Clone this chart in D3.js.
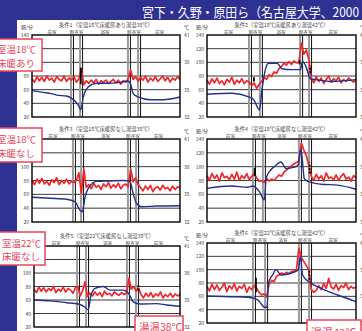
<!DOCTYPE html>
<html>
<head>
<meta charset="utf-8">
<script src="https://cdn.jsdelivr.net/npm/d3@7"></script>
<style>
  html, body { margin: 0; padding: 0; background: #2e3192; }
  svg { display: block; }
</style>
</head>
<body>
<svg id="chart" width="362" height="331"></svg>
<script>
const mainTitle = "宮下・久野・原田ら（名古屋大学、2000"
const panelTitles = [
  "条件1（室温18℃床暖房あり湯温38℃）",
  "条件2（室温18℃床暖房あり湯温42℃）",
  "条件3（室温18℃床暖房なし湯温38℃）",
  "条件4（室温18℃床暖房なし湯温42℃）",
  "条件5（室温22℃床暖房なし湯温38℃）",
  "条件6（室温22℃床暖房なし湯温42℃）"
]
const segNames = ["前室", "脱衣室", "浴室", "脱衣室", "前室"]
const pulseTicks = [20, 40, 60, 80, 100, 120, 140]
const tempTicks = [32, 35, 38, 41]
const condLabels = [["室温18℃", "床暖あり"], ["室温18℃", "床暖なし"], ["室温22℃", "床暖なし"]]
const bathLabels = ["湯温38℃", "湯温42℃"]

// room change times (minutes, 0-60)
const bounds = [
  [16.2, 19.9, 39.3, 43.4],
  [17.3, 21.7, 37.9, 41.5],
  [17.0, 20.3, 39.3, 42.6],
  [18.9, 22.9, 37.4, 41.5],
  [18.1, 21.8, 38.6, 42.3],
  [18.9, 23.8, 37.4, 41.5]
]

// pulse (beats/min), one value per minute 0..60
const pulse1 = [76,71,79,73,78,72,80,74,77,71,79,75,73,80,72,77, 74,79,71,76, 91,67,
  73,69,74,70,75,68,73,71,74,69,72,75,70,74,68,73,71,76,
  89,75,79,72,78,74,80,71,77,73,79,72,76,80,73,78,71,77,74,79,75]
const pulse2 = [74,68,76,70,77,69,73,67,75,71,78,68,74,70,76,69,73, 71,66,70,62,68,
  72,78,75,82,79,86,84,91, 94,99,96,101,97,102,99, 100, 128,112,118,104,
  76,70,79,72,77,69,75,80,71,76,73,78,70,75,72,77,74,71,76]
const pulse3 = [80,74,82,76,83,75,79,73,81,77,84,74,80,76,82,75,79, 77,80,91,61,97,70,
  74,68,76,70,73,67,75,71,77,69,74,70,76,68,73,75,71, 97, 78,84,74,
  70,65,72,67,73,64,69,71,66,73,68,70,65,72,67,71,69]
const pulse4 = [87,80,90,83,88,79,91,84,86,81,89,82,92,80,87,83,90,81,86, 90,84,79,
  80,77,83,79,82,80, 84,88,86,92,95,98,101,104,106, 108, 134, 124,116,102,
  86,80,89,82,87,79,91,83,85,81,88,80,86,90,82,85,79,87,84]
const pulse5 = [76,71,79,73,78,72,77,74,80,71,76,73,79,72,77,75,70,78, 80,66,74,87,65,
  70,66,72,67,71,65,73,68,70,66,72,69,67,71,68,70, 92, 76,80,73,78,
  68,63,70,65,71,64,69,66,72,63,68,65,70,64,69,66,68]
const pulse6 = [75,68,78,70,77,69,74,80,67,76,71,79,68,75,72,78,66,74,70,76, 72,66,62,64,59,
  78,84,82,90, 92,95,93,96,94,97,98,100, 132, 118,112,106,100, 70,66,69,
  76,70,79,72,87,74,71,78,69,76,73,80,70,75,72,74]

// skin temperature (℃), [minute, value]
const temp1 = [[0,34.9],[4.6,34.7],[7.3,34.6],[10,34.4],[14,34.3],[16,34.05],[18.8,33.3],[19.8,32.8],
  [20.8,34.2],[22.8,35.3],[26.2,35.7],[30.2,35.7],[35.6,35.8],[39,35.95],[40.1,35.5],[41,34.6],
  [43,34.2],[47.8,33.9],[53.2,33.9],[60,34.2]]
const temp2 = [[0,34.5],[10.1,34.6],[16.8,34.2],[18.8,33.9],[21.1,32.8],[22.2,35.1],[23.5,37.2],
  [24.8,37.9],[28.2,37.9],[30.2,37.3],[34.2,37.2],[37.6,37.2],[38.5,38.1],[39.9,37.5],[41.6,36.2],
  [43.6,36.1],[50.3,35.9],[60,36.1]]
const temp3 = [[0,34.68],[7.3,34.57],[14,34.46],[17.4,34.2],[19.4,33.3],[20.4,33.1],[21.5,34.7],
  [22.8,35.65],[26.2,36.4],[31.6,36.45],[37,36.5],[39.7,36.4],[41,35.1],[42.4,34.0],[44.4,33.66],
  [50.5,33.73],[60,33.77]]
const temp4 = [[0,35.65],[9.7,35.9],[16.4,35.76],[18.4,35.9],[21.1,35.3],[23.1,34.4],[23.8,36.7],
  [25.1,37.45],[27.1,38.0],[29.8,38.5],[31.8,37.8],[35.2,37.95],[36.8,38.2],[37.6,39.8],[38.1,39.4],
  [39.2,36.7],[40.5,36.4],[45.9,36.1],[52.6,36.0],[60,35.55]]
const temp5 = [[0,35.0],[6.6,34.9],[13.4,34.7],[18.2,34.55],[21,34.2],[22.3,33.9],[23.3,35.4],
  [25.1,36.3],[28.5,36.5],[31.2,36.1],[36.7,36.1],[38.8,35.75],[40.8,34.8],[43.6,34.55],
  [50.4,34.6],[54.5,34.45],[60,34.3]]
const temp6 = [[0,35.04],[9.7,34.96],[16.4,34.9],[20.4,34.6],[21.7,34.2],[23.1,33.77],[24.2,33.77],
  [24.7,36.5],[26.4,37.4],[27.8,38.0],[29.8,37.4],[33.8,37.6],[36.8,38.0],[37.6,39.5],[38.5,37.4],
  [41.2,36.6],[45.9,35.9],[52.6,35.15],[60,34.4]]

// black marker strokes in the pulse trace: [minute, from, to, dashed]
const marks = [
  [[19.8, 68, 92, 0]],
  [[18.9, 72, 78, 0], [37.3, 97, 103, 0], [41.6, 84, 95, 1]],
  [],
  [[19.3, 86, 98, 0], [41.3, 90, 106, 1]],
  [[42.9, 74, 82, 1]],
  [[19.7, 66, 88, 0], [41.2, 85, 99, 1]]
]

const pulses = [pulse1, pulse2, pulse3, pulse4, pulse5, pulse6]
const temps = [temp1, temp2, temp3, temp4, temp5, temp6]

const FONT = '"Noto Sans CJK JP", "Noto Sans", sans-serif'
const W = 362, H = 331
const RED = '#f0262b', BLUE = '#232f8f', PINK = '#e8445a'

const frames = [
  { x0: 32, x1: 180, y0: 35, y1: 117 },
  { x0: 207, x1: 356, y0: 35, y1: 117 },
  { x0: 32, x1: 180, y0: 139, y1: 222 },
  { x0: 207, x1: 356, y0: 139, y1: 222 },
  { x0: 34, x1: 180, y0: 246, y1: 327 },
  { x0: 207, x1: 356, y0: 243, y1: 323 }
]

const svg = d3.select('#chart').attr('font-family', FONT)

svg.append('rect').attr('width', W).attr('height', H).attr('fill', '#2e3192')
svg.append('rect').attr('x', 17).attr('y', 20).attr('width', W - 17).attr('height', H - 20).attr('fill', '#fff')

svg.append('text')
  .attr('x', 142).attr('y', 17)
  .attr('fill', '#fff')
  .attr('font-size', 13)
  .attr('textLength', 217)
  .attr('lengthAdjust', 'spacingAndGlyphs')
  .text(mainTitle)

function drawPanel(i) {
  const f = frames[i]
  const x = d3.scaleLinear().domain([0, 60]).range([f.x0, f.x1])
  const yP = d3.scaleLinear().domain([20, 140]).range([f.y1, f.y0])
  const yT = d3.scaleLinear().domain([32, 41]).range([f.y1, f.y0])
  const g = svg.append('g')

  // grid
  g.append('g').selectAll('line')
    .data(pulseTicks.slice(1, -1))
    .join('line')
    .attr('x1', f.x0).attr('x2', f.x1)
    .attr('y1', d => yP(d)).attr('y2', d => yP(d))
    .attr('stroke', '#3a3a3a').attr('stroke-width', 1)

  // room boundaries: grey + black double line
  const bl = g.append('g')
  bl.selectAll('line.g').data(bounds[i]).join('line').attr('class', 'g')
    .attr('x1', d => x(d) - 1).attr('x2', d => x(d) - 1)
    .attr('y1', f.y0).attr('y2', f.y1)
    .attr('stroke', '#9a9a9a').attr('stroke-width', 2)
  bl.selectAll('line.k').data(bounds[i]).join('line').attr('class', 'k')
    .attr('x1', d => x(d) + 1.5).attr('x2', d => x(d) + 1.5)
    .attr('y1', f.y0).attr('y2', f.y1)
    .attr('stroke', '#111').attr('stroke-width', 1)

  // pulse
  g.append('path')
    .datum(pulses[i])
    .attr('fill', 'none')
    .attr('stroke', RED)
    .attr('stroke-width', 1.7)
    .attr('stroke-linejoin', 'round')
    .attr('d', d3.line().x((d, j) => x(j)).y(d => yP(d)))

  // temperature
  g.append('path')
    .datum(temps[i])
    .attr('fill', 'none')
    .attr('stroke', BLUE)
    .attr('stroke-width', 1.4)
    .attr('d', d3.line().x(d => x(d[0])).y(d => yT(d[1])).curve(d3.curveMonotoneX))

  // marker strokes
  g.append('g').selectAll('line')
    .data(marks[i])
    .join('line')
    .attr('x1', d => x(d[0])).attr('x2', d => x(d[0]))
    .attr('y1', d => yP(d[1])).attr('y2', d => yP(d[2]))
    .attr('stroke', '#000').attr('stroke-width', 1.8)
    .attr('stroke-dasharray', d => d[3] ? '2,1.5' : null)

  // frame
  g.append('rect')
    .attr('x', f.x0).attr('y', f.y0)
    .attr('width', f.x1 - f.x0).attr('height', f.y1 - f.y0)
    .attr('fill', 'none').attr('stroke', '#000').attr('stroke-width', 1.4)

  // axes
  const left = g.append('g').attr('transform', `translate(${f.x0},0)`)
    .call(d3.axisLeft(yP).tickValues(pulseTicks).tickSize(0).tickPadding(3))
  const right = g.append('g').attr('transform', `translate(${f.x1},0)`)
    .call(d3.axisRight(yT).tickValues(tempTicks).tickSize(0).tickPadding(4))
  for (const a of [left, right]) {
    a.select('.domain').remove()
    a.attr('font-size', 5).attr('font-family', FONT)
    a.selectAll('text').attr('fill', '#444')
  }

  g.append('text').attr('x', f.x0 - 5).attr('y', f.y0 - 6)
    .attr('text-anchor', 'middle').attr('font-size', 5).attr('fill', '#444').text('脈/分')
  g.append('text').attr('x', f.x1 + 4).attr('y', f.y0 - 6)
    .attr('font-size', 5).attr('fill', '#444').text('℃')

  // title and room names
  g.append('text').attr('x', (f.x0 + f.x1) / 2).attr('y', f.y0 - 8)
    .attr('text-anchor', 'middle').attr('font-size', 5.3).attr('fill', '#444')
    .text(panelTitles[i])

  const edges = [0, ...bounds[i], 60]
  g.append('g').selectAll('text')
    .data(segNames)
    .join('text')
    .attr('x', (d, j) => x((edges[j] + edges[j + 1]) / 2))
    .attr('y', f.y0 - 1.5)
    .attr('text-anchor', 'middle').attr('font-size', 4.6).attr('fill', '#444')
    .text(d => d)
}

d3.range(6).forEach(drawPanel)

// condition labels
const condBoxes = [
  { x: -5, y: 39, w: 47, h: 32, tx: -3 },
  { x: -5, y: 128, w: 47, h: 34, tx: -3 },
  { x: -5, y: 232, w: 50, h: 33, tx: 2 }
]
condBoxes.forEach((b, i) => {
  svg.append('rect').attr('x', b.x).attr('y', b.y).attr('width', b.w).attr('height', b.h)
    .attr('fill', '#fff').attr('stroke', PINK).attr('stroke-width', 1.5)
  svg.append('g').selectAll('text')
    .data(condLabels[i])
    .join('text')
    .attr('x', b.tx)
    .attr('y', (d, j) => b.y + b.h / 2 - 2 + j * 13.5)
    .attr('font-size', 9.5).attr('fill', PINK)
    .text(d => d)
})

const bathBoxes = [
  { x: 135, y: 316, w: 48, h: 22, tx: 139, ty: 331, fs: 10.5 },
  { x: 307, y: 320, w: 54, h: 22, tx: 311, ty: 337, fs: 11 }
]
bathBoxes.forEach((b, i) => {
  svg.append('rect').attr('x', b.x).attr('y', b.y).attr('width', b.w).attr('height', b.h)
    .attr('fill', '#fff').attr('stroke', PINK).attr('stroke-width', 1.5)
  svg.append('text').attr('x', b.tx).attr('y', b.ty)
    .attr('font-size', b.fs).attr('fill', PINK)
    .text(bathLabels[i])
})
</script>
</body>
</html>
